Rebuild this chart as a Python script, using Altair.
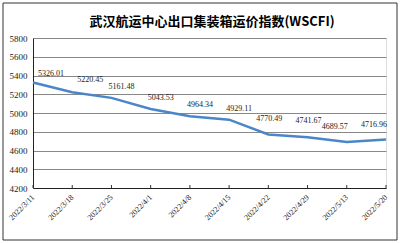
import altair as alt
import pandas as pd

dates = ["2022/3/11", "2022/3/18", "2022/3/25", "2022/4/1", "2022/4/8",
         "2022/4/15", "2022/4/22", "2022/4/29", "2022/5/13", "2022/5/20"]
values = [5326.01, 5220.45, 5161.48, 5043.53, 4964.34,
          4929.11, 4770.49, 4741.67, 4689.57, 4716.96]
y_ticks = [4200, 4400, 4600, 4800, 5000, 5200, 5400, 5600, 5800]
title = "武汉航运中心出口集装箱运价指数(WSCFI)"

df = pd.DataFrame({"date": dates, "value": values})
df["label"] = [f"{v:.2f}" for v in values]
df["idx"] = list(range(len(dates)))

W, H = 353, 150
serif = "Liberation Serif"

x_enc = alt.X("date:N", sort=dates, title=None,
              scale=alt.Scale(type="point", padding=0),
              axis=alt.Axis(labelAngle=-45, labelAlign="right", labelBaseline="middle",
                            labelFont=serif, labelFontSize=8, labelColor="#222",
                            labelPadding=8, ticks=False,
                            domainColor="#222", grid=False))
y_enc = alt.Y("value:Q", title=None,
              scale=alt.Scale(domain=[4200, 5800], nice=False, zero=False),
              axis=alt.Axis(values=y_ticks, format="d", labelOverlap=False,
                            labelFont=serif, labelFontSize=9, labelColor="#222",
                            ticks=False, domainColor="#222", gridColor="#888",
                            gridWidth=1, labelPadding=6))

base = alt.Chart(df)

border = alt.Chart(pd.DataFrame({"a": [0]})).mark_rect(
    fill=None, stroke="#333", strokeWidth=1, clip=False
).encode(x=alt.value(-30), x2=alt.value(W + 11), y=alt.value(-35), y2=alt.value(H + 52))

head = alt.Chart(pd.DataFrame({"t": [title]})).mark_text(
    font="Noto Sans CJK SC", fontSize=13, fontWeight="bold", color="#000",
    align="center", baseline="middle"
).encode(x=alt.value(179), y=alt.value(-16), text="t:N")

line = base.mark_line(color="#4a86c8", strokeWidth=2.5).encode(x=x_enc, y=y_enc)

xticks = base.mark_rule(color="#333", strokeWidth=1).encode(
    x=x_enc, y=alt.value(H - 3), y2=alt.value(H))

# label nudges (dx, dy) per group of points, as in the reference
groups = [((0, 0), 18, -8), ((1, 1), 18, -12), ((2, 5), 10, -11),
          ((6, 7), 1, -16), ((8, 9), -12, -15)]
labels = []
for (lo, hi), dx, dy in groups:
    labels.append(
        base.transform_filter(f"datum.idx >= {lo} && datum.idx <= {hi}")
        .mark_text(font=serif, fontSize=8, color="#222", dx=dx, dy=dy)
        .encode(x=x_enc, y=y_enc, text="label:N")
    )

chart = alt.layer(border, line, xticks, *labels, head).properties(
    width=W, height=H,
    autosize=alt.AutoSizeParams(type="none"),
    padding={"left": 33, "top": 38, "right": 14, "bottom": 55},
).configure_view(stroke="#888", strokeWidth=1).configure(background="white")

chart.save("out.html", embed_options={"renderer": "svg", "actions": False})
